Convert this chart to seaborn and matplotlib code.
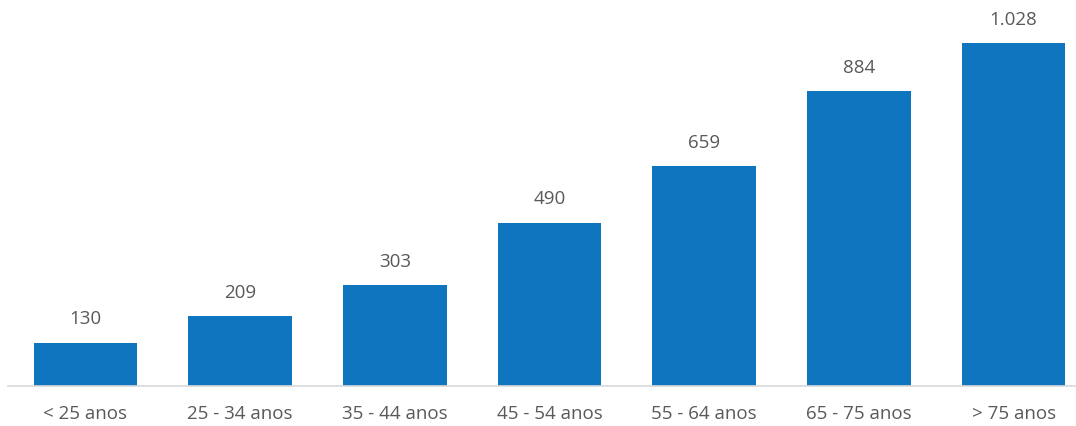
import matplotlib
matplotlib.use('Agg')
import matplotlib.pyplot as plt
import seaborn as sns
import pandas as pd

faixas = ['< 25 anos', '25 - 34 anos', '35 - 44 anos', '45 - 54 anos',
          '55 - 64 anos', '65 - 75 anos', '> 75 anos']
valores = [130, 209, 303, 490, 659, 884, 1028]
rotulos = ['130', '209', '303', '490', '659', '884', '1.028']

sns.set_style('white')
plt.rcParams['font.family'] = ['Open Sans', 'DejaVu Sans']

df = pd.DataFrame({'faixa': faixas, 'valor': valores})

fig = plt.figure(figsize=(10.76, 4.27), dpi=100)
ax = fig.add_axes([8 / 1076, 40 / 427, 1083 / 1076, 387 / 427])
sns.barplot(data=df, x='faixa', y='valor', color='#0E75BE', saturation=1,
            width=0.67, linewidth=0, ax=ax)

for i, (v, r) in enumerate(zip(valores, rotulos)):
    ax.annotate(r, (i, v), xytext=(0, 11), textcoords='offset points',
                ha='center', va='bottom', fontsize=13.5, color='#595959')

ax.set_ylim(0, 1160)
ax.set_xlim(-0.5, 6.5)
ax.set_xlabel('')
ax.set_ylabel('')
ax.set_yticks([])
ax.tick_params(axis='x', length=0, pad=13, labelsize=13.5, labelcolor='#595959')
for s in ['top', 'right', 'left']:
    ax.spines[s].set_visible(False)
ax.spines['bottom'].set_color('#D9D9D9')
ax.spines['bottom'].set_linewidth(1.2)

fig.savefig('out.png', dpi=100)
